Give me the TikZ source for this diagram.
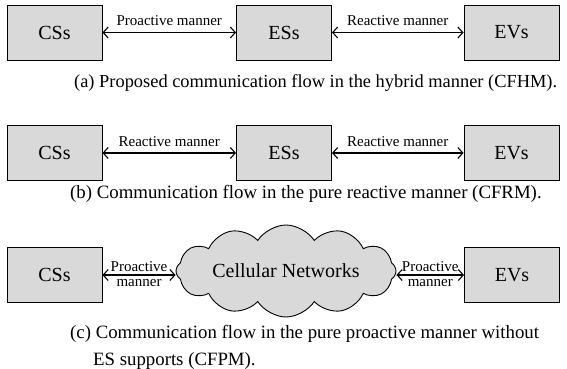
\documentclass[tikz,border=0pt]{standalone}
\usepackage{fontspec}
\setmainfont{Liberation Serif}
\usetikzlibrary{arrows.meta,shapes.symbols}
\definecolor{boxgray}{HTML}{D9D9D9}
\tikzset{
  ent/.style={draw=black, line width=0.9pt, fill=boxgray, minimum width=95pt, minimum height=55pt, inner sep=0pt, font=\fontsize{20}{24}\selectfont},
  link/.style={line width=1.1pt, {Straight Barb[length=5pt,width=11pt]}-{Straight Barb[length=5pt,width=11pt]}},
  lab/.style={font=\fontsize{15}{16}\selectfont, inner sep=0pt},
  captext/.style={font=\fontsize{18.8}{27}\selectfont, inner sep=0pt, anchor=base west},
  cloudy/.style={cloud, cloud puffs=12, cloud puff arc=115, cloud ignores aspect, draw=black, line width=0.9pt, fill=boxgray, minimum width=220pt, minimum height=92pt, inner sep=0pt, font=\fontsize{20}{24}\selectfont}
}
\begin{document}
\begin{tikzpicture}[x=1pt,y=-1pt]
\useasboundingbox (0,0) rectangle (567,369);
% row a
\node[ent] (a1) at (54.5,32.5) {CSs};
\node[ent] (a2) at (284,32.5) {ESs};
\node[ent] (a3) at (511.5,32.5) {EVs};
\draw[link] (a1) -- node[lab, above=6pt] {Proactive manner} (a2);
\draw[link] (a2) -- node[lab, above=6pt] {Reactive manner} (a3);
\node[captext, font=\fontsize{18.4}{27}\selectfont] (ca) at (74,87) {(a) Proposed communication flow in the hybrid manner (CFHM).};
% row b
\node[ent] (b1) at (54.5,153) {CSs};
\node[ent] (b2) at (284,153) {ESs};
\node[ent] (b3) at (511.5,153) {EVs};
\draw[link] (b1) -- node[lab, above=6pt] {Reactive manner} (b2);
\draw[link] (b2) -- node[lab, above=6pt] {Reactive manner} (b3);
\node[captext] (cb) at (70,198) {(b) Communication flow in the pure reactive manner (CFRM).};
% row c
\node[ent] (c1) at (54.5,275) {CSs};
\node[cloudy] (c2) at (286,271) {Cellular Networks};
\node[ent] (c3) at (512,275) {EVs};
\draw[link] (c1.east) -- node[lab, above=3pt] {Proactive} node[lab, below=4pt] {manner} (c1.east -| c2.west);
\draw[link] (c2.east |- c3.west) -- node[lab, above=3pt] {Proactive} node[lab, below=4pt] {manner} (c3.west);
\node[captext] (cc) at (70,338) {\begin{tabular}[t]{@{}l@{}}(c) Communication flow in the pure proactive manner without\\\hspace*{23pt}ES supports (CFPM).\end{tabular}};
\end{tikzpicture}
\end{document}
